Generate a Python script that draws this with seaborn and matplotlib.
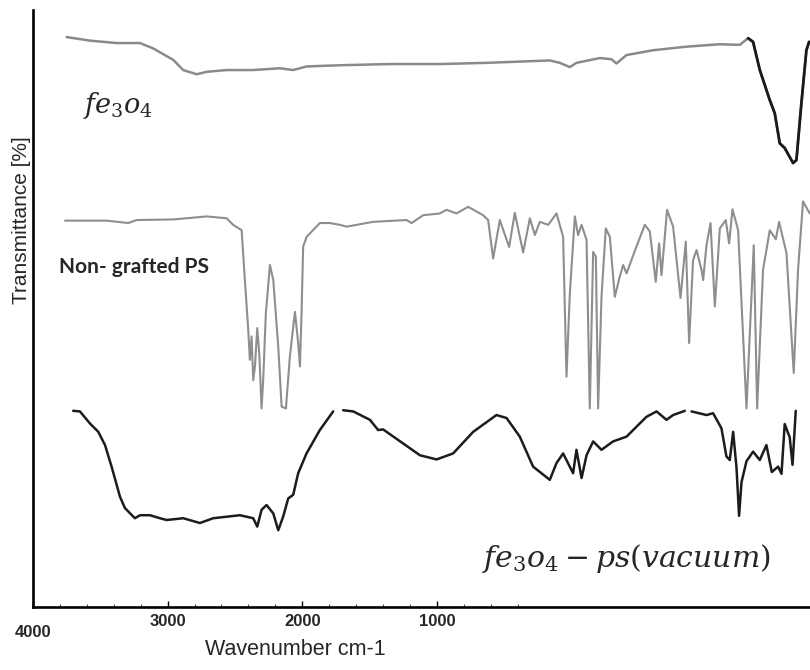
import numpy as np
import pandas as pd
import matplotlib
matplotlib.use("Agg")
import matplotlib.pyplot as plt
import seaborn as sns
from matplotlib.ticker import FixedLocator

sns.set_theme(style="white")
plt.rcParams["font.family"] = ["Liberation Sans", "DejaVu Sans"]
plt.rcParams["mathtext.fontset"] = "dejavuserif"

# ---- spectra (x in axis wavenumber units, y in relative transmittance) ----
fe3o4_wn = [3750, 3577, 3378, 3205, 3107, 2958, 2884, 2784, 2710, 2562, 2364,
            2166, 2067, 1968, 1720, 1349, 978, 631, 161, 87, 12, -37, -211,
            -297, -334, -409, -606, -854, -1102, -1250, -1312, -1349, -1399,
            -1473, -1510, -1547, -1584, -1646, -1671, -1708, -1745, -1765]
fe3o4_t = [95.0, 94.4, 94.0, 94.0, 93.1, 91.2, 89.5, 88.8, 89.2, 89.5, 89.5,
           89.8, 89.5, 90.1, 90.3, 90.5, 90.5, 90.7, 91.1, 90.7, 90.0, 90.7,
           91.5, 91.3, 90.6, 92.0, 92.8, 93.4, 93.8, 93.7, 94.8, 94.2, 89.5,
           84.5, 82.3, 77.3, 76.5, 74.0, 74.5, 84.0, 92.8, 94.2]

ps_wn = [3762, 3453, 3292, 3230, 2958, 2710, 2562, 2513, 2450, 2426, 2401,
         2389, 2376, 2364, 2351, 2334, 2319, 2302, 2290, 2270, 2240, 2215,
         2178, 2153, 2121, 2092, 2054, 2030, 2017, 2005, 1993, 1967, 1869,
         1795, 1720, 1670, 1473, 1225, 1188, 1102, 978, 928, 854, 767, 656,
         619, 582, 532, 463, 421, 359, 309, 272, 235, 173, 111, 62, 37, 12,
         -25, -49, -75, -112, -136, -161, -181, -198, -223, -255, -285, -322,
         -359, -384, -409, -483, -545, -582, -595, -626, -651, -669, -710,
         -755, -810, -849, -874, -903, -929, -966, -978, -1003, -1033, -1065,
         -1102, -1146, -1171, -1196, -1238, -1300, -1354, -1379, -1423, -1473,
         -1518, -1542, -1597, -1651, -1683, -1720, -1770]
ps_t = [64.4, 64.4, 64.0, 64.5, 64.6, 65.1, 64.8, 63.7, 62.8, 54.5, 46.2,
        41.2, 45.1, 37.8, 40.1, 46.5, 42.3, 33.1, 37.8, 49.0, 57.0, 54.5,
        43.4, 33.4, 33.1, 41.7, 49.2, 44.0, 40.1, 49.0, 60.1, 61.7, 64.0,
        64.0, 63.7, 63.4, 64.2, 64.5, 64.0, 65.3, 65.6, 66.2, 65.6, 66.7, 65.3,
        64.5, 58.1, 64.5, 60.0, 65.7, 59.1, 64.8, 62.0, 64.2, 63.7, 65.6, 61.7,
        38.4, 52.3, 65.1, 62.0, 63.7, 61.2, 33.1, 59.2, 58.4, 33.1, 51.7, 63.1,
        61.7, 51.7, 55.1, 57.0, 55.6, 60.1, 63.7, 62.6, 60.1, 54.2, 60.6, 55.3,
        66.2, 63.4, 51.5, 60.9, 44.0, 57.8, 59.5, 56.2, 54.5, 60.3, 64.0, 50.1,
        63.1, 64.5, 60.6, 66.3, 62.8, 33.1, 60.3, 33.1, 56.2, 62.8, 61.3, 64.2,
        59.0, 39.0, 56.2, 67.6, 65.6]

fe3o4_ps_wn = [3701, 3651, 3577, 3515, 3465, 3416, 3354, 3317, 3243, 3205,
               3131, 3057, 3007, 2884, 2760, 2661, 2463, 2364, 2334, 2302,
               2265, 2215, 2178, 2141, 2104, 2067, 2030, 1968, 1869, 1770,
               np.nan, 1696, 1621, 1497, 1436, 1399, 1126, 1002, 879, 730, 557,
               482, 384, 285, 161, 111, 62, -12, -37, -75, -112, -161, -223,
               -309, -409, -557, -632, -706, -755, -842, np.nan, -892, -1003,
               -1052, -1114, -1151, -1176, -1201, -1226, -1245, -1263, -1300,
               -1349, -1399, -1448, -1488, -1535, -1560, -1584, -1621, -1642,
               -1666]
fe3o4_ps_t = [32.7, 32.6, 30.6, 29.2, 27.0, 23.4, 18.4, 16.5, 14.8, 15.3,
              15.3, 14.8, 14.5, 14.8, 14.0, 14.8, 15.3, 14.8, 13.4, 16.2,
              17.0, 15.6, 12.8, 15.1, 18.1, 18.7, 22.3, 25.6, 29.5, 32.6,
              np.nan, 32.8, 32.6, 31.2, 29.5, 29.6, 25.3, 24.6, 25.6, 29.2, 32.0,
              31.5, 28.4, 23.4, 21.2, 24.0, 25.6, 22.3, 26.2, 21.5, 25.3, 27.6,
              26.2, 27.6, 28.4, 31.7, 32.6, 31.2, 32.0, 32.7, np.nan, 32.6, 32.0,
              32.3, 29.8, 25.1, 24.5, 29.2, 23.2, 15.2, 20.8, 24.3, 25.9, 24.5,
              27.0, 22.5, 23.4, 22.2, 30.5, 28.3, 23.7, 32.7]

tick_values = [4000, 3000, 2000, 1000]
tick_labels = ["4000", "3000", "2000", "1000"]


def trace_frame(wn, t):
    df = pd.DataFrame({"wavenumber": wn, "transmittance": t})
    df["segment"] = df["wavenumber"].isna().cumsum()
    return df.dropna()


fig = plt.figure(figsize=(8.1, 6.7), dpi=100)
ax = fig.add_axes([0.0407, 0.094, 0.959, 0.891])

line_kw = dict(x="wavenumber", y="transmittance", units="segment",
               estimator=None, sort=False, legend=False, ax=ax)

fe = trace_frame(fe3o4_wn, fe3o4_t)
sns.lineplot(data=fe, color="#8a8a8a", lw=1.8, **line_kw)
sns.lineplot(data=fe[fe["wavenumber"] <= -1312], color="#1a1a1a", lw=2.0, **line_kw)

ps = trace_frame(ps_wn, ps_t)
sns.lineplot(data=ps, color="#8e8e8e", lw=1.5, **line_kw)

feps = trace_frame(fe3o4_ps_wn, fe3o4_ps_t)
sns.lineplot(data=feps, color="#1c1c1c", lw=1.8, **line_kw)

ax.set_xlim(4000, -1770)
ax.set_ylim(0, 99.5)

# axes frame
sns.despine(ax=ax, top=True, right=True)
for side in ("left", "bottom"):
    ax.spines[side].set_color("black")
    ax.spines[side].set_linewidth(1.9)

ax.set_yticks([])
ax.set_xticks(tick_values)
ax.set_xticklabels(tick_labels, fontfamily=["Liberation Sans Narrow", "Liberation Sans"],
                   fontweight="bold", fontsize=12)
ax.xaxis.set_minor_locator(FixedLocator(np.arange(400, 4001, 200)))
ax.tick_params(axis="x", which="major", direction="in", length=4, width=1.0,
               color="black", pad=5, bottom=True)
ax.tick_params(axis="x", which="minor", direction="in", length=2.5, width=0.8,
               color="#444444", bottom=True)
ax.xaxis.get_major_ticks()[0].set_pad(13)

ax.set_xlabel("Wavenumber cm-1", fontsize=15.5,
              fontfamily=["Liberation Sans Narrow", "Liberation Sans"])
ax.xaxis.set_label_coords(0.338, -0.053)
ax.set_ylabel("Transmittance [%]", fontsize=15)
ax.yaxis.set_label_coords(-0.003, 0.648)

# sample annotations
ax.text(3629, 82.3, r"$fe_3o_4$", fontsize=19.5, ha="left", va="baseline")
ax.text(3805, 55.7, "Non- grafted PS", fontsize=15, fontweight="bold",
        fontfamily=["Lato", "DejaVu Sans"], ha="left", va="baseline")
ax.text(668, 6.7, r"$fe_3o_4 - ps(vacuum)$", fontsize=21.5, ha="left", va="baseline")

fig.savefig("out.png", dpi=100)
